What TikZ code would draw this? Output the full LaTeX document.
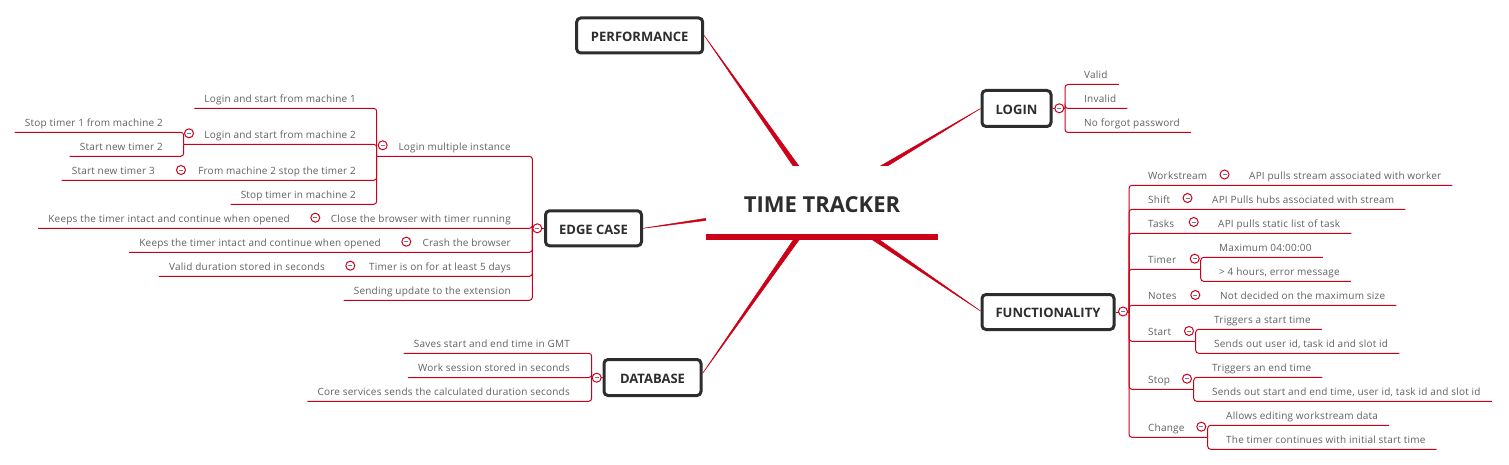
\documentclass[tikz,border=0pt]{standalone}
\usepackage{fontspec}
\setmainfont{Open Sans}
\newfontfamily\leaffont[LetterSpace=2.2]{Open Sans}
\usetikzlibrary{positioning,calc}
\definecolor{ttred}{HTML}{CC0018}
\definecolor{ttink}{HTML}{2D2D2D}
\definecolor{ttgrey}{HTML}{606060}
\definecolor{ttminus}{HTML}{6878A8}
\tikzstyle{root} = [rectangle, fill=white, minimum width=232pt, minimum height=74pt, inner sep=0pt, text height=18pt, text depth=0pt, text=ttink, font=\fontsize{22}{26}\selectfont\bfseries]
\tikzstyle{topic} = [rectangle, rounded corners=4pt, draw=ttink, line width=3pt, fill=white, minimum height=35pt, inner sep=0pt, text height=11.5pt, text depth=0pt, text=ttink, font=\fontsize{13}{15}\selectfont\bfseries]
\tikzstyle{leaf} = [inner ysep=3pt, text height=7.5pt, text depth=2.5pt, text=ttgrey, font=\leaffont\fontsize{10}{12}\selectfont]
\tikzstyle{rleaf} = [leaf, inner xsep=11pt, anchor=south west]
\tikzstyle{lleaf} = [leaf, inner xsep=10pt, anchor=south east]
\tikzstyle{wire} = [draw=ttred, line width=1pt, rounded corners=3pt]
\tikzstyle{limb} = [draw=ttred, fill=ttred, line width=.5pt, line join=round]
\tikzstyle{fold} = [circle, draw=ttred, fill=white, line width=1pt, minimum size=9pt, inner sep=0pt, path picture={\draw[ttminus, line width=.7pt] ([xshift=2.5pt]path picture bounding box.west) -- ([xshift=-2.5pt]path picture bounding box.east);}]
\newcommand{\limbto}[1]{\path [limb] ($(hub)!3pt!90:#1$) -- ($(hub)!3pt!-90:#1$) -- #1 -- cycle;}
\begin{document}
\begin{tikzpicture}[x=1pt, y=-1pt]
	\useasboundingbox (0,0) rectangle (1509,465);
	\coordinate (hub) at (822,203);
	% Place topics
	\node [topic, minimum width=126pt] (perf) at (639.7,35.5) {PERFORMANCE};
	\node [topic, minimum width=69pt, minimum height=36pt] (login) at (1016.5,108.5) {LOGIN};
	\node [topic, minimum width=96pt] (edge) at (593.5,228.3) {EDGE CASE};
	\node [topic, minimum width=97pt, minimum height=36pt] (base) at (652.5,377.5) {DATABASE};
	\node [topic, minimum width=132pt] (func) at (1048,312) {FUNCTIONALITY};
	% Branches from the centre
	\limbto{(perf.east)}
	\limbto{(login.west)}
	\limbto{(edge.east)}
	\limbto{([yshift=4pt]base.east)}
	\limbto{([yshift=1pt]func.west)}
	\node [root] (main) at (hub) {TIME TRACKER};
	\path [draw=ttred, line width=6pt] ([yshift=3pt]main.south west) -- ([yshift=3pt]main.south east);
	% Login
	\coordinate (loginjoint) at (1065,108.5);
	\node [rleaf] (valid) at (1073,84.5) {Valid};
	\node [rleaf] (invalid) at (1073,108.5) {Invalid};
	\node [rleaf] (noforgot) at (1073,132.5) {No forgot password};
	\path [wire] (login.east) -- (loginjoint);
	\path [wire] (loginjoint) |- (valid.south east);
	\path [wire] (loginjoint) |- (invalid.south east);
	\path [wire] (loginjoint) |- (noforgot.south east);
	\node [fold] (loginfold) at (1059.3,108.3) {};
	% Functionality
	\coordinate (funcjoint) at (1129,312);
	\node [rleaf] (stream) at (1137,185.3) {Workstream};
	\node [rleaf] (streamapi) at (1238,185.3) {API pulls stream associated with worker};
	\node [rleaf] (shift) at (1137,209.3) {Shift};
	\node [rleaf] (shiftapi) at (1201,209.3) {API Pulls hubs associated with stream};
	\node [rleaf] (tasks) at (1137,233.3) {Tasks};
	\node [rleaf] (tasksapi) at (1207,233.3) {API pulls static list of task};
	\node [rleaf] (timer) at (1137,269.3) {Timer};
	\node [rleaf] (timermax) at (1208,257.3) {Maximum 04:00:00};
	\node [rleaf] (timerover) at (1208,281.3) {> 4 hours, error message};
	\node [rleaf] (notes) at (1137,305.3) {Notes};
	\node [rleaf] (notessize) at (1209,305.3) {Not decided on the maximum size};
	\node [rleaf] (start) at (1137,341.3) {Start};
	\node [rleaf] (starttime) at (1203,329.3) {Triggers a start time};
	\node [rleaf] (startsend) at (1203,353.3) {Sends out user id, task id and slot id};
	\node [rleaf] (stop) at (1137,389.3) {Stop};
	\node [rleaf] (stoptime) at (1201,377.3) {Triggers an end time};
	\node [rleaf] (stopsend) at (1201,401.3) {Sends out start and end time, user id, task id and slot id};
	\node [rleaf] (change) at (1137,437.3) {Change};
	\node [rleaf] (changeedit) at (1215,425.3) {Allows editing workstream data};
	\node [rleaf] (changekeep) at (1215,449.3) {The timer continues with initial start time};
	\coordinate (timerjoint) at (1200.7,269.3);
	\coordinate (startjoint) at (1195.7,341.3);
	\coordinate (stopjoint) at (1193.7,389.3);
	\coordinate (changejoint) at (1207.7,437.3);
	\path [wire] (func.east) -- (funcjoint);
	\path [wire] (funcjoint) |- (streamapi.south east);
	\path [wire] (funcjoint) |- (shiftapi.south east);
	\path [wire] (funcjoint) |- (tasksapi.south east);
	\path [wire] (funcjoint) |- (timerjoint);
	\path [wire] (funcjoint) |- (notessize.south east);
	\path [wire] (funcjoint) |- (startjoint);
	\path [wire] (funcjoint) |- (stopjoint);
	\path [wire] (funcjoint) |- (changejoint);
	\path [wire] (timerjoint) |- (timermax.south east);
	\path [wire] (timerjoint) |- (timerover.south east);
	\path [wire] (startjoint) |- (starttime.south east);
	\path [wire] (startjoint) |- (startsend.south east);
	\path [wire] (stopjoint) |- (stoptime.south east);
	\path [wire] (stopjoint) |- (stopsend.south east);
	\path [wire] (changejoint) |- (changeedit.south east);
	\path [wire] (changejoint) |- (changekeep.south east);
	\node [fold] (funcfold) at (1123,311.5) {};
	\node [fold] (streamfold) at (1224.5,174.5) {};
	\node [fold] (shiftfold) at (1187.5,198) {};
	\node [fold] (tasksfold) at (1193.7,222) {};
	\node [fold] (timerfold) at (1194.7,258.7) {};
	\node [fold] (notesfold) at (1195.3,295) {};
	\node [fold] (startfold) at (1189,331) {};
	\node [fold] (stopfold) at (1187,378.7) {};
	\node [fold] (changefold) at (1201.3,426.7) {};
	% Edge case
	\coordinate (edgejoint) at (532.4,228.3);
	\coordinate (multijoint) at (376.7,156.3);
	\coordinate (twojoint) at (183.7,144.3);
	\node [lleaf] (multi) at (521,156.3) {Login multiple instance};
	\node [lleaf] (first) at (366,108.3) {Login and start from machine 1};
	\node [lleaf] (second) at (366,144.3) {Login and start from machine 2};
	\node [lleaf] (stopone) at (173,132.3) {Stop timer 1 from machine 2};
	\node [lleaf] (newtwo) at (173,156.3) {Start new timer 2};
	\node [lleaf] (stoptwo) at (366,180.3) {From machine 2 stop the timer 2};
	\node [lleaf] (newthree) at (165,180.3) {Start new timer 3};
	\node [lleaf] (stopin) at (366,204.3) {Stop timer in machine 2};
	\node [lleaf] (close) at (521,228.3) {Close the browser with timer running};
	\node [lleaf] (closekeep) at (300,228.3) {Keeps the timer intact and continue when opened};
	\node [lleaf] (crash) at (521,252.3) {Crash the browser};
	\node [lleaf] (crashkeep) at (391,252.3) {Keeps the timer intact and continue when opened};
	\node [lleaf] (days) at (521,276.3) {Timer is on for at least 5 days};
	\node [lleaf] (seconds) at (335,276.3) {Valid duration stored in seconds};
	\node [lleaf] (update) at (521,300.3) {Sending update to the extension};
	\path [wire] (edge.west) -- (edgejoint);
	\path [wire] (edgejoint) |- (multijoint);
	\path [wire] (multijoint) |- (first.south west);
	\path [wire] (multijoint) |- (twojoint);
	\path [wire] (twojoint) |- (stopone.south west);
	\path [wire] (twojoint) |- (newtwo.south west);
	\path [wire] (multijoint) |- (newthree.south west);
	\path [wire] (multijoint) |- (stopin.south west);
	\path [wire] (edgejoint) |- (closekeep.south west);
	\path [wire] (edgejoint) |- (crashkeep.south west);
	\path [wire] (edgejoint) |- (seconds.south west);
	\path [wire] (edgejoint) |- (update.south west);
	\node [fold] (edgefold) at (537.3,228.3) {};
	\node [fold] (multifold) at (382.7,145.3) {};
	\node [fold] (secondfold) at (189,133.3) {};
	\node [fold] (stoptwofold) at (181,170) {};
	\node [fold] (closefold) at (315.3,217.7) {};
	\node [fold] (crashfold) at (406.3,241.7) {};
	\node [fold] (daysfold) at (350.3,265.7) {};
	% Database
	\coordinate (basejoint) at (591.7,377.5);
	\node [lleaf] (saves) at (580,353.3) {Saves start and end time in GMT};
	\node [lleaf] (session) at (580,377.5) {Work session stored in seconds};
	\node [lleaf] (core) at (580,401.3) {Core services sends the calculated duration seconds};
	\path [wire] (base.west) -- (basejoint);
	\path [wire] (basejoint) |- (saves.south west);
	\path [wire] (basejoint) |- (session.south west);
	\path [wire] (basejoint) |- (core.south west);
	\node [fold] (basefold) at (596.7,377.7) {};
\end{tikzpicture}
\end{document}
